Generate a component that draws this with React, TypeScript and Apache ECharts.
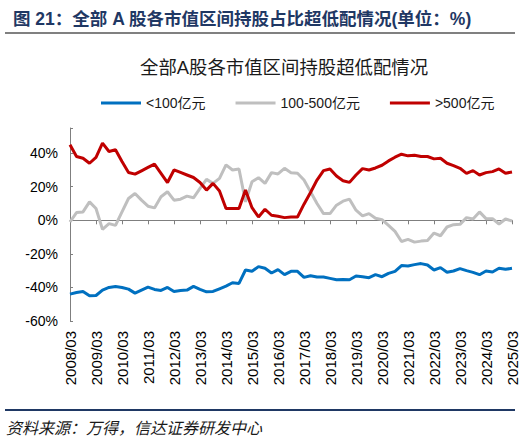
import { useEffect, useRef } from "react";
import * as echarts from "echarts";

// quarterly dates 2008/03 .. 2025/03
const quarters: string[] = [];
for (let y = 2008; y <= 2025; y++) {
  for (const m of ["03", "06", "09", "12"]) {
    if (y === 2025 && m !== "03") continue;
    quarters.push(`${y}/${m}`);
  }
}

const seriesNames = ["<100亿元", "100-500亿元", ">500亿元"];

// values in %
const small = [
  -44, -43, -42.4, -45, -44.8, -41.6, -40, -39.4, -40, -41, -43.4, -41.6, -39.8, -41.2, -41.8, -40,
  -42.4, -41.8, -41.6, -39.4, -41.2, -42.6, -42.4, -40.8, -39.2, -37.2, -37.6, -29.6, -30.4, -27.6,
  -28.6, -31.4, -29.4, -32.4, -30.4, -30.4, -34, -33, -33.8, -33.8, -34.6, -35.4, -35.2, -35.4, -33.2,
  -33.6, -34.2, -32.4, -33.6, -31.6, -30.4, -27, -27.2, -26.4, -25.8, -26.6, -29.6, -28.2, -31, -30.2,
  -28.8, -30, -31, -32.4, -30.2, -30.8, -28.6, -29.2, -28.6,
];

const mid = [
  -1, 4.6, 5, 11, 7, -5.4, -2, -3, 5, 13, 16, 12, 8.4, 7.4, 14, 17, 12, 12.6, 14.4, 13.4, 19, 24.4, 22,
  25, 33, 30, 30.6, 11, 23, 25.4, 22, 28.4, 27.6, 31, 28.4, 28, 24, 17, 10, 4, 4, 9, 11.4, 12.6, 6, 2.6,
  4, 1.2, 0.4, -3, -6.6, -12.6, -11.4, -13, -12.4, -12, -7.6, -9.2, -4, -2.6, -2.4, 1.6, 0.8, 5, 1, 1,
  -2.2, 0.8, -0.4,
];

const large = [
  45, 38, 37, 34, 37.5, 46, 41, 42, 35, 28.5, 27.5, 29.5, 31.5, 33.5, 28, 22.5, 30, 28.5, 27, 25.5,
  22.5, 18, 22, 17.5, 7, 7, 7, 18, 7.5, 2, 6.6, 3, 2.4, 1.6, 2, 2, 9.6, 16.6, 24, 29.6, 30.6, 26.4,
  23.6, 22.6, 27, 30.8, 30, 31.2, 32.8, 35.4, 37.6, 39.4, 38.4, 38.8, 38, 38, 36.6, 37, 34, 32.6, 31,
  28, 29.6, 27, 28.4, 29, 30.6, 28, 28.8,
];

const colors = ["#0070C0", "#BFBFBF", "#C00000"];
const FONT = '"Liberation Sans", "Noto Sans CJK SC", sans-serif';

export default function App() {
  const chartRef = useRef<HTMLDivElement>(null);

  useEffect(() => {
    if (!chartRef.current) return;
    const chart = echarts.init(chartRef.current, undefined, { renderer: "svg" });

    chart.setOption({
      animation: false,
      title: [
        {
          text: "图 21：全部 A 股各市值区间持股占比超低配情况(单位：%)",
          left: 8,
          top: 5,
          textStyle: { fontSize: 17.5, fontWeight: "bold", color: "#1F3864", fontFamily: FONT },
        },
        {
          text: "全部A股各市值区间持股超低配情况",
          left: 135,
          top: 53,
          textStyle: { fontSize: 18.4, fontWeight: "normal", color: "#1a1a1a", fontFamily: FONT },
        },
      ],
      legend: {
        left: 96,
        top: 91,
        icon: "rect",
        itemWidth: 40,
        itemHeight: 3,
        itemGap: 30,
        data: seriesNames,
        textStyle: { fontSize: 14, color: "#1a1a1a", fontFamily: FONT },
      },
      grid: { left: 70, right: 8, top: 128, bottom: 120, outerBoundsMode: "none" },
      xAxis: [
        {
          type: "category",
          data: quarters,
          boundaryGap: false,
          axisLine: { show: false, onZero: false },
          axisTick: { show: false },
          axisLabel: {
            interval: 3,
            rotate: 90,
            margin: 10,
            fontSize: 15,
            color: "#000",
            fontFamily: FONT,
          },
        },
        {
          type: "category",
          data: quarters,
          position: "bottom",
          boundaryGap: false,
          axisLine: { show: true, onZero: true, lineStyle: { color: "#7f7f7f", width: 1 } },
          axisTick: { show: true, interval: 3, length: 4, lineStyle: { color: "#7f7f7f" } },
          axisLabel: { show: false },
        },
      ],
      yAxis: {
        type: "value",
        min: -60,
        max: 55,
        interval: 20,
        splitLine: { show: false },
        axisLine: { show: true, lineStyle: { color: "#7f7f7f", width: 1 } },
        axisTick: { show: true, inside: true, length: 3, lineStyle: { color: "#7f7f7f" } },
        axisLabel: {
          fontSize: 14,
          color: "#000",
          margin: 12,
          fontFamily: FONT,
          formatter: (v: number) => (v % 20 === 0 ? `${v}%` : ""),
        },
      },
      graphic: [
        {
          type: "line",
          shape: { x1: 5, y1: 33, x2: 515, y2: 33 },
          style: { stroke: "#808080", lineWidth: 2 },
        },
        {
          type: "line",
          shape: { x1: 5, y1: 410, x2: 515, y2: 410 },
          style: { stroke: "#1F3864", lineWidth: 2 },
        },
        {
          type: "text",
          x: 6,
          y: 428,
          style: {
            text: "资料来源：万得，信达证券研发中心",
            fontSize: 16,
            fontStyle: "italic",
            fill: "#1a1a1a",
            fontFamily: FONT,
            verticalAlign: "middle",
          },
        },
      ],
      series: [small, mid, large].map((d, i) => ({
        name: seriesNames[i],
        type: "line",
        data: d,
        xAxisIndex: 0,
        symbol: "none",
        lineStyle: { color: colors[i], width: 3 },
        itemStyle: { color: colors[i] },
      })),
    });

    return () => {
      chart.dispose();
    };
  }, []);

  return (
    <div
      ref={chartRef}
      style={{ position: "absolute", left: 0, top: 0, width: 520, height: 441, background: "#fff" }}
    />
  );
}
